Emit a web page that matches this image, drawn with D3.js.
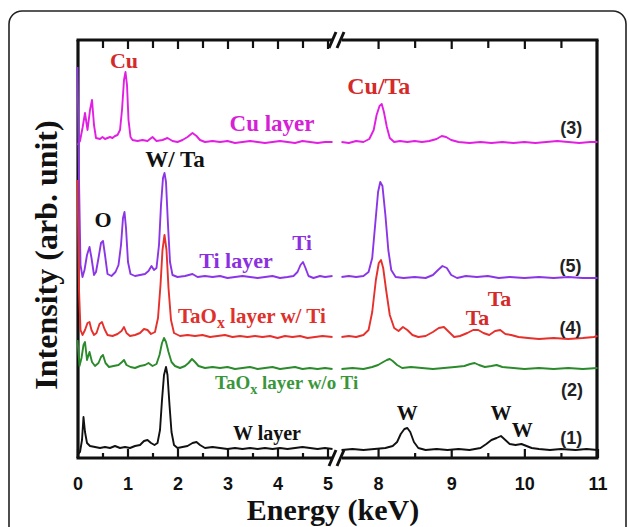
<!DOCTYPE html>
<html><head><meta charset="utf-8">
<script src="https://cdn.jsdelivr.net/npm/d3@7"></script>
<style>body{margin:0;background:#fff}svg{display:block}</style>
</head><body>
<script>
// ---------- DATA (energy keV, intensity arb. units incl. vertical offset) ----------
const cuLeft=[[0,313],[0.05,317],[0.1,330],[0.15,345],[0.2,328],[0.25,348],[0.29,358],[0.33,333],[0.37,320],[0.45,319],[0.5,321],[0.55,319],[0.6,320],[0.65,321],[0.7,320],[0.75,322],[0.8,323],[0.85,328],[0.89,348],[0.93,378],[0.96,386],[0.99,373],[1.02,338],[1.06,321],[1.1,318],[1.2,317],[1.3,318],[1.4,317],[1.5,321],[1.58,317],[1.7,318],[1.8,320],[1.9,317],[2,316],[2.1,318],[2.2,321],[2.3,325],[2.38,322],[2.45,318],[2.55,316],[2.7,317],[2.85,316],[3,317],[3.15,315],[3.3,316],[3.45,317],[3.6,316],[3.75,315],[3.9,316],[4.05,317],[4.2,316],[4.35,315],[4.5,317],[4.65,316],[4.8,315],[4.95,316],[5.1,316]];
const cuRight=[[7.5,316],[7.6,315],[7.7,317],[7.8,316],[7.88,319],[7.94,328],[7.98,343],[8.02,352],[8.05,354],[8.08,346],[8.12,331],[8.16,320],[8.22,316],[8.3,317],[8.4,316],[8.5,317],[8.6,316],[8.7,317],[8.8,319],[8.87,322],[8.93,321],[9,318],[9.1,316],[9.25,315],[9.4,316],[9.55,315],[9.7,316],[9.85,315],[10,316],[10.15,315],[10.3,316],[10.45,317],[10.6,316],[10.75,315],[10.9,316],[11,316]];
const tiLeft=[[0,391],[0.03,278],[0.06,193],[0.1,181],[0.14,188],[0.19,203],[0.24,211],[0.28,200],[0.33,183],[0.37,186],[0.42,200],[0.47,215],[0.51,217],[0.55,203],[0.6,184],[0.68,182],[0.76,186],[0.82,193],[0.87,213],[0.91,240],[0.94,246],[0.97,230],[1.01,196],[1.06,184],[1.15,182],[1.25,183],[1.35,184],[1.42,187],[1.48,192],[1.53,188],[1.58,190],[1.63,213],[1.67,253],[1.71,280],[1.74,285],[1.77,276],[1.81,233],[1.85,196],[1.9,183],[2,181],[2.15,182],[2.3,184],[2.4,181],[2.55,182],[2.7,181],[2.85,182],[3,180],[3.15,181],[3.3,182],[3.45,181],[3.6,180],[3.75,181],[3.9,182],[4.05,180],[4.2,181],[4.32,182],[4.4,186],[4.46,193],[4.51,196],[4.56,190],[4.62,182],[4.72,180],[4.85,182],[4.95,181],[5.1,182]];
const tiRight=[[7.5,181],[7.6,182],[7.7,181],[7.8,182],[7.87,186],[7.92,200],[7.96,233],[8,266],[8.03,276],[8.06,272],[8.1,243],[8.14,208],[8.18,188],[8.24,181],[8.35,180],[8.5,181],[8.65,180],[8.75,183],[8.82,188],[8.88,192],[8.94,190],[9,183],[9.08,180],[9.2,182],[9.35,181],[9.5,182],[9.65,180],[9.8,181],[10,180],[10.2,181],[10.4,180],[10.6,181],[10.8,180],[11,180]];
const taTiLeft=[[0,278],[0.03,168],[0.06,128],[0.1,123],[0.15,128],[0.2,135],[0.24,136],[0.28,128],[0.33,123],[0.38,125],[0.44,134],[0.49,136],[0.54,129],[0.6,123],[0.7,122],[0.8,124],[0.88,127],[0.93,131],[0.98,125],[1.05,122],[1.15,123],[1.25,125],[1.33,129],[1.4,128],[1.47,124],[1.55,126],[1.61,140],[1.66,173],[1.7,208],[1.74,223],[1.78,208],[1.82,170],[1.87,138],[1.93,125],[2.05,122],[2.2,123],[2.35,122],[2.5,123],[2.65,121],[2.8,122],[2.95,123],[3.1,121],[3.25,122],[3.4,121],[3.55,122],[3.7,121],[3.85,122],[4,120],[4.15,122],[4.3,121],[4.45,122],[4.6,120],[4.75,121],[4.9,122],[5.1,121]];
const taTiRight=[[7.5,121],[7.6,122],[7.7,121],[7.8,123],[7.87,128],[7.92,146],[7.97,178],[8.01,195],[8.04,198],[8.07,190],[8.11,168],[8.16,143],[8.22,130],[8.28,127],[8.34,131],[8.4,128],[8.47,123],[8.55,121],[8.65,122],[8.75,126],[8.83,130],[8.9,131],[8.97,126],[9.04,121],[9.12,122],[9.22,125],[9.3,128],[9.37,128],[9.44,125],[9.52,123],[9.6,127],[9.67,128],[9.74,124],[9.82,123],[9.92,121],[10.05,120],[10.2,119],[10.4,120],[10.6,119],[10.8,120],[10.95,121],[11,122]];
const taLeft=[[0,118],[0.04,92],[0.08,100],[0.12,113],[0.15,116],[0.19,98],[0.24,106],[0.29,96],[0.35,92],[0.42,95],[0.47,101],[0.51,103],[0.56,95],[0.63,91],[0.72,92],[0.82,93],[0.89,96],[0.93,98],[0.98,93],[1.06,91],[1.15,90],[1.25,92],[1.35,93],[1.42,95],[1.5,92],[1.58,94],[1.64,103],[1.69,115],[1.73,120],[1.77,116],[1.82,106],[1.88,96],[1.95,92],[2.05,90],[2.15,92],[2.22,95],[2.29,99],[2.35,96],[2.42,92],[2.55,90],[2.7,91],[2.85,90],[3,91],[3.15,89],[3.3,90],[3.45,91],[3.6,89],[3.75,90],[3.9,91],[4.05,89],[4.2,90],[4.35,91],[4.5,89],[4.65,90],[4.8,89],[4.95,90],[5.1,89]];
const taRight=[[7.5,89],[7.65,90],[7.8,89],[7.92,91],[8,93],[8.07,96],[8.12,98],[8.16,99],[8.2,97],[8.26,93],[8.33,90],[8.45,91],[8.6,90],[8.75,89],[8.9,90],[9.05,91],[9.18,92],[9.26,94],[9.32,95],[9.38,93],[9.46,91],[9.55,92],[9.62,93],[9.7,91],[9.85,90],[10,89],[10.2,90],[10.4,89],[10.6,90],[10.8,89],[11,90]];
const wLeft=[[0,3],[0.05,6],[0.09,18],[0.12,41],[0.15,26],[0.19,15],[0.25,12],[0.35,11],[0.45,10],[0.55,11],[0.65,10],[0.75,12],[0.85,10],[0.95,11],[1.05,10],[1.15,12],[1.25,13],[1.33,17],[1.4,18],[1.47,15],[1.54,13],[1.6,15],[1.65,28],[1.69,58],[1.73,83],[1.77,91],[1.8,83],[1.84,53],[1.88,26],[1.93,13],[2,10],[2.1,11],[2.2,12],[2.3,15],[2.38,16],[2.45,13],[2.55,10],[2.7,11],[2.85,10],[3,9],[3.15,10],[3.3,9],[3.45,10],[3.6,9],[3.75,10],[3.9,9],[4.05,10],[4.2,9],[4.35,10],[4.5,11],[4.65,10],[4.8,9],[4.95,10],[5.1,9]];
const wRight=[[7.5,8],[7.65,9],[7.8,8],[7.95,9],[8.1,10],[8.2,12],[8.26,16],[8.31,24],[8.36,29],[8.4,30],[8.44,26],[8.49,16],[8.55,10],[8.65,8],[8.8,9],[8.95,8],[9.1,9],[9.25,8],[9.4,10],[9.48,14],[9.55,18],[9.62,20],[9.68,22],[9.74,18],[9.8,14],[9.88,13],[9.96,14],[10.03,12],[10.1,10],[10.2,9],[10.35,8],[10.5,9],[10.7,8],[10.85,9],[11,8]];

const majorLeft=[0,1,2,3,4,5];
const minorLeft=[0.5,1.5,2.5,3.5,4.5];
const majorRight=[8,9,10,11];
const minorRight=[8.5,9.5,10.5];

const seriesNames=["Cu layer","Ti layer","TaOx layer w/ Ti","TaOx layer w/o Ti","W layer"];
const seriesColors=["#e21ee2","#8b36e6","#e6302c","#2b8a2b","#111111"];
const seriesLeft=[cuLeft,tiLeft,taTiLeft,taLeft,wLeft];
const seriesRight=[cuRight,tiRight,taTiRight,taRight,wRight];

// annotations: [text, energy, intensity, color, size, anchor, family]
const labels=[
 ["Cu",0.93,390,"#d42a2a",22,"middle","serif"],
 ["Cu layer",3.89,327,"#d620d6",23,"middle","serif"],
 ["Cu/Ta",8.01,364,"#d42a2a",24,"middle","serif"],
 ["(3)",10.64,324,"#222",18,"middle","sans"],
 ["W/ Ta",1.95,291,"#111",23,"middle","serif"],
 ["O",0.51,231,"#111",22,"middle","serif"],
 ["Ti layer",3.17,190,"#8a30e0",22,"middle","serif"],
 ["Ti",4.49,208,"#8a30e0",21,"middle","serif"],
 ["(5)",10.63,186,"#222",18,"middle","sans"],
 ["Ta",9.36,133,"#d42a2a",22,"middle","serif"],
 ["Ta",9.66,152,"#d42a2a",22,"middle","serif"],
 ["(4)",10.63,124,"#222",18,"middle","sans"],
 ["(2)",10.65,62,"#222",18,"middle","sans"],
 ["W layer",3.79,18,"#111",20,"middle","serif"],
 ["W",8.40,38,"#111",21,"middle","serif"],
 ["W",9.68,38,"#111",21,"middle","serif"],
 ["W",9.97,21,"#111",21,"middle","serif"],
 ["(1)",10.64,14,"#222",18,"middle","sans"]
];
// subscript labels: [main, sub, rest, energy, intensity, color, size]
const subLabels=[
 ["TaO","x"," layer w/ Ti",2.01,135,"#e0302c",21],
 ["TaO","x"," layer w/o Ti",2.75,69,"#3a963a",19]
];

// ---------- DRAW ----------
const W=629,H=527;
const svg=d3.select("body").append("svg").attr("width",W).attr("height",H);
const SERIF="'Liberation Serif','Times New Roman',serif";
const SANS="'Liberation Sans',Arial,sans-serif";

const yTop=40,yBot=458,xLeftEdge=78,xRightEdge=597;
const xL=d3.scaleLinear().domain([0,5.1]).range([77.5,332.5]);
const xR=d3.scaleLinear().domain([7.5,11]).range([341.5,597.5]);
const y=d3.scaleLinear().domain([0,420]).range([yBot,yBot-420]);
const xAt=e=>e<=6?xL(e):xR(e);

// outer frame
svg.append("rect").attr("x",9).attr("y",11).attr("width",617).attr("height",540)
  .attr("rx",13).attr("fill","none").attr("stroke","#222").attr("stroke-width",1.6);

// axes ticks
function ticks(axisFn,scale,vals,size,ypos,labelsOn){
  const a=axisFn(scale).tickValues(vals).tickSizeInner(size).tickSizeOuter(0)
    .tickPadding(19).tickFormat(labelsOn?d3.format("d"):()=>"");
  const gg=svg.append("g").attr("transform",`translate(0,${ypos})`).call(a);
  gg.select(".domain").remove();
  gg.selectAll(".tick line").attr("stroke","#111").attr("stroke-width",2.2);
  gg.selectAll(".tick text").attr("font-family",SANS).attr("font-weight","bold")
    .attr("font-size",18).attr("fill","#111");
  return gg;
}
ticks(d3.axisBottom,xL,majorLeft,-9,yBot,true);
ticks(d3.axisBottom,xL,minorLeft,-5,yBot,false);
ticks(d3.axisBottom,xR,majorRight,-9,yBot,true);
ticks(d3.axisBottom,xR,minorRight,-5,yBot,false);
ticks(d3.axisTop,xL,majorLeft.slice(1),-9,yTop,false);
ticks(d3.axisTop,xL,minorLeft,-8,yTop,false);
ticks(d3.axisTop,xR,majorRight.slice(0,3),-9,yTop,false);
ticks(d3.axisTop,xR,minorRight,-8,yTop,false);

// axis frame lines with break
const ax=svg.append("g").attr("stroke","#111").attr("stroke-width",3.2).attr("fill","none");
[yTop,yBot].forEach(yy=>{
  ax.append("line").attr("x1",xLeftEdge-1.5).attr("x2",333).attr("y1",yy).attr("y2",yy);
  ax.append("line").attr("x1",342).attr("x2",xRightEdge+1.5).attr("y1",yy).attr("y2",yy);
  ax.append("line").attr("x1",329).attr("y1",yy+8).attr("x2",336).attr("y2",yy-8).attr("stroke-width",3);
  ax.append("line").attr("x1",337).attr("y1",yy+8).attr("x2",344).attr("y2",yy-8).attr("stroke-width",3);
});
ax.append("line").attr("x1",xLeftEdge).attr("x2",xLeftEdge).attr("y1",yTop).attr("y2",yBot);
ax.append("line").attr("x1",xRightEdge).attr("x2",xRightEdge).attr("y1",yTop).attr("y2",yBot);

// lines (drawn over the axes, later series on top)
const line=sc=>d3.line().x(d=>sc(d[0])).y(d=>y(d[1]));
const g=svg.append("g");
[0,1,2,3,4].forEach(i=>{
  g.append("path").datum(seriesLeft[i]).attr("d",line(xL)).attr("fill","none")
   .attr("stroke",seriesColors[i]).attr("stroke-width",1.9).attr("stroke-linejoin","round");
  g.append("path").datum(seriesRight[i]).attr("d",line(xR)).attr("fill","none")
   .attr("stroke",seriesColors[i]).attr("stroke-width",1.9).attr("stroke-linejoin","round");
});

// annotations
labels.forEach(l=>{
  svg.append("text").attr("x",xAt(l[1])).attr("y",y(l[2])).attr("text-anchor",l[5])
    .attr("font-family",l[6]==="serif"?SERIF:SANS).attr("font-weight","bold")
    .attr("font-size",l[4]).attr("fill",l[3]).text(l[0]);
});
subLabels.forEach(l=>{
  const t=svg.append("text").attr("x",xAt(l[3])).attr("y",y(l[4]))
    .attr("font-family",SERIF).attr("font-weight","bold").attr("font-size",l[6]).attr("fill",l[5]);
  t.append("tspan").text(l[0]);
  t.append("tspan").attr("dy",5).attr("font-size",l[6]*0.75).text(l[1]);
  t.append("tspan").attr("dy",-5).text(l[2]);
});

// axis titles
svg.append("text").attr("transform",`translate(57,255) rotate(-90)`).attr("text-anchor","middle")
  .attr("font-family",SERIF).attr("font-weight","bold").attr("font-size",32).attr("fill","#111")
  .text("Intensity (arb. unit)");
svg.append("text").attr("x",333).attr("y",520).attr("text-anchor","middle")
  .attr("font-family",SERIF).attr("font-weight","bold").attr("font-size",30).attr("fill","#111")
  .text("Energy (keV)");
</script>
</body></html>
